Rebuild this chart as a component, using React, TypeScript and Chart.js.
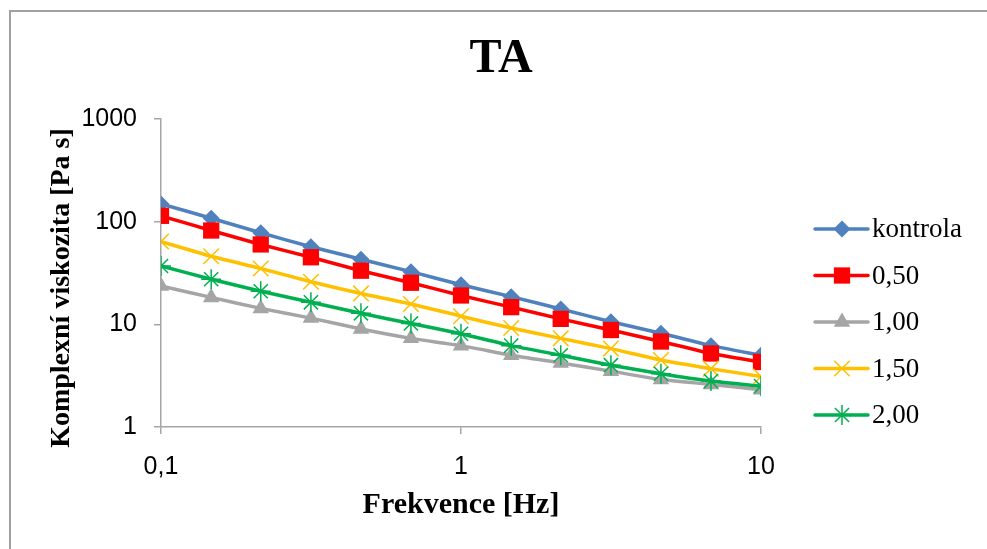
import React, { useEffect, useRef } from "react";
import { Chart, registerables } from "chart.js";

Chart.register(...registerables);

const frequencies = [0.1, 0.147, 0.215, 0.316, 0.464, 0.681, 1, 1.47, 2.15, 3.16, 4.64, 6.81, 10];
const kontrola = [149, 108, 78, 57, 43, 32.6, 24.3, 18.6, 14.1, 10.6, 8.2, 6.2, 5.0];
const c050 = [114, 82, 60, 45, 33.3, 25.4, 19.1, 14.7, 11.3, 8.8, 6.8, 5.2, 4.3];
const c100 = [23.6, 18.3, 14.3, 11.5, 9.0, 7.3, 6.2, 5.0, 4.2, 3.5, 2.9, 2.6, 2.3];
const c150 = [64, 46, 35, 26, 20, 15.8, 12.0, 9.2, 7.3, 5.8, 4.5, 3.7, 3.1];
const c200 = [37, 27.5, 21, 16.4, 12.8, 10.2, 8.1, 6.2, 5.0, 4.0, 3.3, 2.8, 2.5];

const seriesNames = ["kontrola", "0,50", "1,00", "1,50", "2,00"];
const seriesValues = [kontrola, c050, c100, c150, c200];
const seriesColors = ["#4F81BD", "#FF0000", "#A5A5A5", "#FFC000", "#00B050"];
const seriesMarkers = ["rectRot", "rect", "triangle", "crossRot", "star"];
const markerRadius = [8.5, 11.5, 9.5, 11, 10];

const xTicks = [0.1, 1, 10];
const yTicks = [1, 10, 100, 1000];

const chartTitle = "TA";
const xTitle = "Frekvence [Hz]";
const yTitle = "Komplexní viskozita [Pa s]";

function drawMarker(ctx: CanvasRenderingContext2D, style: string, x: number, y: number, r: number, color: string) {
  ctx.save();
  ctx.fillStyle = color;
  ctx.strokeStyle = color;
  ctx.lineWidth = 1.5;
  ctx.beginPath();
  if (style === "rectRot") {
    ctx.moveTo(x, y - r);
    ctx.lineTo(x + r, y);
    ctx.lineTo(x, y + r);
    ctx.lineTo(x - r, y);
    ctx.closePath();
    ctx.fill();
  } else if (style === "rect") {
    const s = r * Math.SQRT1_2;
    ctx.rect(x - s, y - s, 2 * s, 2 * s);
    ctx.fill();
  } else if (style === "triangle") {
    for (let i = 0; i < 3; i++) {
      const a = -Math.PI / 2 + (i * 2 * Math.PI) / 3;
      const px = x + Math.cos(a) * r;
      const py = y + Math.sin(a) * r;
      if (i === 0) ctx.moveTo(px, py);
      else ctx.lineTo(px, py);
    }
    ctx.closePath();
    ctx.fill();
  } else if (style === "crossRot") {
    const o = r * Math.SQRT1_2;
    ctx.moveTo(x - o, y - o);
    ctx.lineTo(x + o, y + o);
    ctx.moveTo(x - o, y + o);
    ctx.lineTo(x + o, y - o);
    ctx.stroke();
  } else if (style === "star") {
    const o = r * Math.SQRT1_2;
    ctx.moveTo(x - o, y - o);
    ctx.lineTo(x + o, y + o);
    ctx.moveTo(x - o, y + o);
    ctx.lineTo(x + o, y - o);
    ctx.moveTo(x, y - r);
    ctx.lineTo(x, y + r);
    ctx.moveTo(x - r, y);
    ctx.lineTo(x + r, y);
    ctx.stroke();
  }
  ctx.restore();
}

const textPlugin = {
  id: "textPlugin",
  afterDraw(chart: any) {
    const ctx: CanvasRenderingContext2D = chart.ctx;
    ctx.save();
    ctx.fillStyle = "#000";
    ctx.textAlign = "center";
    ctx.textBaseline = "middle";
    ctx.font = "bold 48px 'Liberation Serif', 'Times New Roman', serif";
    ctx.fillText(chartTitle, 501, 60);
    ctx.font = "bold 30px 'Liberation Serif', 'Times New Roman', serif";
    ctx.fillText(xTitle, 461, 505);
    ctx.save();
    ctx.translate(62, 288);
    ctx.rotate(-Math.PI / 2);
    ctx.font = "bold 28px 'Liberation Serif', 'Times New Roman', serif";
    ctx.fillText(yTitle, 0, 0);
    ctx.restore();

    // legend
    const legendTop = 229;
    const legendStep = 46.5;
    ctx.font = "27px 'Liberation Serif', 'Times New Roman', serif";
    ctx.textAlign = "left";
    seriesNames.forEach((name, i) => {
      const y = legendTop + i * legendStep;
      ctx.save();
      ctx.strokeStyle = seriesColors[i];
      ctx.lineWidth = 3.5;
      ctx.lineCap = "round";
      ctx.beginPath();
      ctx.moveTo(815, y);
      ctx.lineTo(868, y);
      ctx.stroke();
      ctx.restore();
      drawMarker(ctx, seriesMarkers[i], 842, y, markerRadius[i], seriesColors[i]);
      ctx.fillStyle = "#000";
      ctx.fillText(name, 872, y + 1);
    });
    ctx.restore();
  },
};

export default function App() {
  const canvasRef = useRef<HTMLCanvasElement | null>(null);

  useEffect(() => {
    const canvas = canvasRef.current;
    if (!canvas) return;
    const datasets = seriesNames.map((name, i) => ({
      label: name,
      data: frequencies.map((f, j) => ({ x: f, y: seriesValues[i][j] })),
      borderColor: seriesColors[i],
      backgroundColor: seriesColors[i],
      pointBackgroundColor: seriesColors[i],
      pointBorderColor: seriesColors[i],
      pointStyle: seriesMarkers[i],
      pointRadius: markerRadius[i],
      pointBorderWidth: i >= 3 ? 1.5 : 0,
      borderWidth: 3.5,
      tension: 0.2,
      order: seriesNames.length - i,
    }));
    const chart = new Chart(canvas, {
      type: "line",
      data: { datasets },
      options: {
        animation: false,
        responsive: false,
        devicePixelRatio: 1,
        layout: { padding: { top: 119, right: 226, left: 0, bottom: 0 } },
        plugins: {
          legend: { display: false },
          title: { display: false },
          tooltip: { enabled: false },
        },
        scales: {
          x: {
            type: "logarithmic",
            min: 0.1,
            max: 10,
            afterBuildTicks: (scale: any) => {
              scale.ticks = xTicks.map((v) => ({ value: v }));
            },
            afterFit: (scale: any) => {
              scale.height = 122;
            },
            ticks: {
              autoSkip: false,
              maxRotation: 0,
              padding: 18,
              color: "#000",
              font: { family: "'Liberation Sans', Arial, sans-serif", size: 25 },
              callback: (v: any) => String(v).replace(".", ","),
            },
            grid: { drawOnChartArea: false, drawTicks: true, tickLength: 7, color: "#A6A6A6", lineWidth: 1.5 },
            border: { color: "#A6A6A6", width: 1.5 },
          },
          y: {
            type: "logarithmic",
            min: 1,
            max: 1000,
            afterBuildTicks: (scale: any) => {
              scale.ticks = yTicks.map((v) => ({ value: v }));
            },
            afterFit: (scale: any) => {
              scale.width = 161;
            },
            ticks: {
              autoSkip: false,
              padding: 17,
              color: "#000",
              font: { family: "'Liberation Sans', Arial, sans-serif", size: 25 },
              callback: (v: any) => String(v),
            },
            grid: { drawOnChartArea: false, drawTicks: true, tickLength: 7, color: "#A6A6A6", lineWidth: 1.5 },
            border: { color: "#A6A6A6", width: 1.5 },
          },
        },
      },
      plugins: [textPlugin],
    } as any);
    return () => chart.destroy();
  }, []);

  return (
    <div
      style={{
        position: "fixed",
        left: 0,
        top: 0,
        width: 987,
        height: 549,
        overflow: "hidden",
        background: "#fff",
      }}
    >
      <div
        style={{
          position: "absolute",
          left: 9,
          top: 10,
          width: 1100,
          height: 700,
          borderLeft: "2px solid #A0A0A0",
          borderTop: "2px solid #A0A0A0",
        }}
      />
      <canvas
        ref={canvasRef}
        width={987}
        height={549}
        style={{ position: "absolute", left: 0, top: 0, width: 987, height: 549 }}
      />
    </div>
  );
}
